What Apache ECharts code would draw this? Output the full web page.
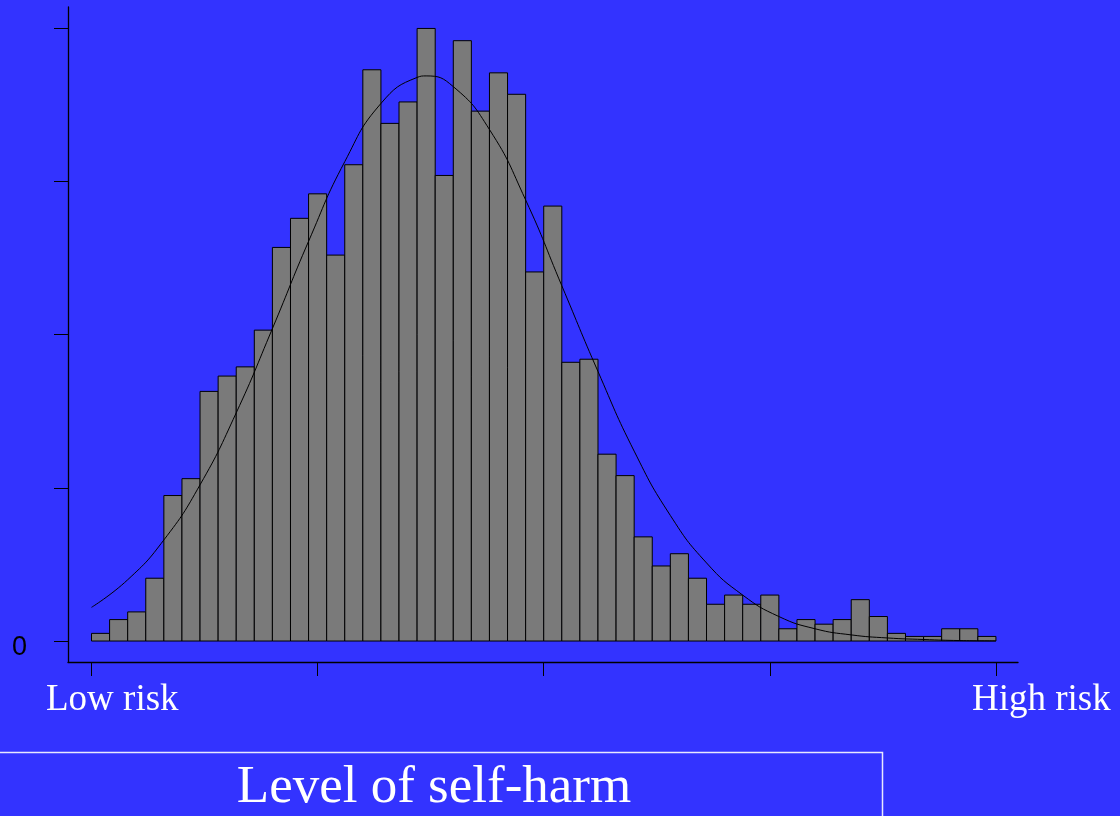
<!DOCTYPE html>
<html>
<head>
<meta charset="utf-8">
<script src="https://cdn.jsdelivr.net/npm/echarts@6/dist/echarts.min.js"></script>
<style>
  html, body { margin: 0; padding: 0; background: #3333ff; }
  #chart { width: 1120px; height: 816px; }
</style>
</head>
<body>
<div id="chart"></div>
<script>
// histogram: 50 equal bins, heights in y-tick units (tick spacing = 1)
var binCount = 50;
var binHeights = [
  0.05, 0.14, 0.19, 0.41, 0.95, 1.06, 1.63, 1.73, 1.79, 2.03,
  2.57, 2.76, 2.92, 2.52, 3.11, 3.73, 3.38, 3.52, 4.00, 3.04,
  3.92, 3.46, 3.71, 3.57, 2.41, 2.84, 1.82, 1.84, 1.22, 1.08,
  0.68, 0.49, 0.57, 0.41, 0.24, 0.30, 0.24, 0.30, 0.08, 0.14,
  0.11, 0.14, 0.27, 0.16, 0.05, 0.03, 0.03, 0.08, 0.08, 0.03
];

// fitted normal curve at every second bin edge
var curveX = [0, 2, 4, 6, 8, 10, 12, 14, 16, 18, 18.5, 20, 22, 24, 26, 28, 30, 32, 34, 36, 38, 40, 42, 44, 46, 48, 50];
var curveY = [0.22, 0.40, 0.66, 1.02, 1.49, 2.04, 2.61, 3.13, 3.51, 3.68, 3.69, 3.62, 3.34, 2.88, 2.32, 1.76, 1.24, 0.82, 0.51, 0.30, 0.16, 0.08, 0.04, 0.02, 0.01, 0.003, 0.001];

var xTicks = [0, 12.5, 25, 37.5, 50];
var yTicks = [0, 1, 2, 3, 4];
var yLabels = [0];
var lowLabel = "Low risk";
var highLabel = "High risk";
var xTitle = "Level of self-harm";

var barData = binHeights.map(function (v, i) { return [i, i + 1, v]; });
var curveData = curveX.map(function (x, i) { return [x, curveY[i]]; });

var myChart = echarts.init(document.getElementById("chart"));
var option = {
  backgroundColor: "#3333ff",
  animation: false,
  grid: {
    left: 68,
    right: 102,
    top: 7,
    bottom: 154,
    containLabel: false,
    outerBoundsMode: "none"
  },
  xAxis: {
    type: "value",
    min: -1.3,
    max: 51.22,
    axisLine: { onZero: false, lineStyle: { color: "#000", width: 1.3 } },
    axisTick: {
      show: true,
      length: 14,
      customValues: xTicks,
      lineStyle: { color: "#000", width: 1 }
    },
    axisLabel: { show: false },
    splitLine: { show: false }
  },
  yAxis: {
    type: "value",
    min: -0.137,
    max: 4.14,
    axisLine: { show: true, onZero: false, lineStyle: { color: "#000", width: 1.3 } },
    axisTick: {
      show: true,
      length: 14,
      customValues: yTicks,
      lineStyle: { color: "#000", width: 1 }
    },
    axisLabel: {
      show: true,
      customValues: yLabels,
      margin: 41,
      color: "#000",
      fontSize: 27,
      fontFamily: "Liberation Sans, Arial, sans-serif",
      verticalAlign: "top",
      lineHeight: 14,
      formatter: function (v) { return String(v); }
    },
    splitLine: { show: false }
  },
  series: [
    {
      name: "bins",
      type: "custom",
      data: barData,
      z: 2,
      renderItem: function (params, api) {
        var p0 = api.coord([api.value(0), api.value(2)]);
        var p1 = api.coord([api.value(1), 0]);
        return {
          type: "rect",
          shape: { x: p0[0], y: p0[1], width: p1[0] - p0[0], height: p1[1] - p0[1] },
          style: { fill: "#7a7a7a", stroke: "#000", lineWidth: 1 }
        };
      }
    },
    {
      name: "normal",
      type: "line",
      data: curveData,
      smooth: true,
      showSymbol: false,
      z: 3,
      lineStyle: { color: "#000", width: 1 }
    }
  ],
  graphic: [
    {
      type: "text",
      left: 46,
      top: 682,
      style: {
        text: lowLabel,
        fill: "#fff",
        fontSize: 37,
        fontFamily: "Liberation Serif, Times New Roman, serif"
      }
    },
    {
      type: "text",
      left: 972,
      top: 682,
      style: {
        text: highLabel,
        fill: "#fff",
        fontSize: 37,
        fontFamily: "Liberation Serif, Times New Roman, serif"
      }
    },
    {
      type: "rect",
      shape: { x: -4, y: 752.5, width: 886.5, height: 100 },
      style: { fill: "none", stroke: "#e8e8ff", lineWidth: 1.5 }
    },
    {
      type: "text",
      x: 434,
      y: 762,
      style: {
        text: xTitle,
        fill: "#fff",
        fontSize: 53,
        align: "center",
        fontFamily: "Liberation Serif, Times New Roman, serif"
      }
    }
  ]
};
myChart.setOption(option);
</script>
</body>
</html>
